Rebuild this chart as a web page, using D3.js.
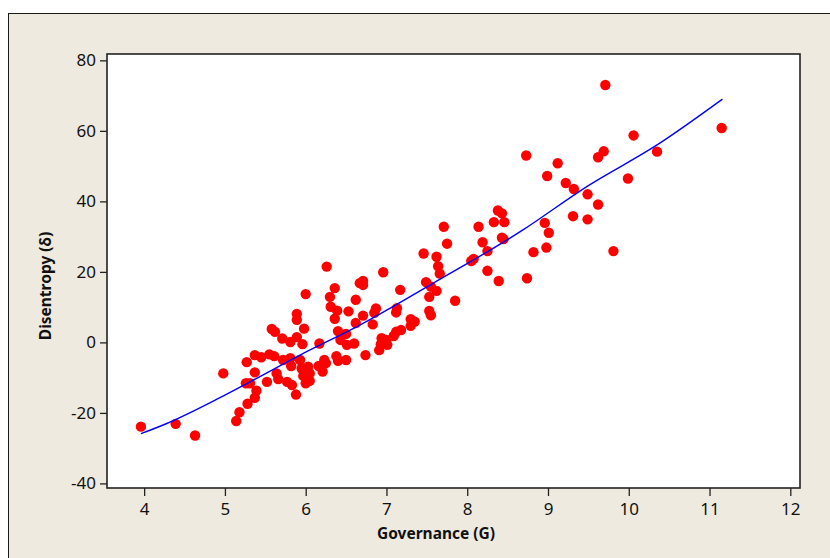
<!DOCTYPE html>
<html>
<head>
<meta charset="utf-8">
<script src="https://cdn.jsdelivr.net/npm/d3@7"></script>
<style>
  html, body { margin: 0; padding: 0; background: #ffffff; }
  svg { display: block; }
</style>
</head>
<body>
<div id="chart"></div>
<script>
// ---- data ----
const governance = [
  3.96, 4.39, 4.63, 4.98, 5.14, 5.18, 5.28, 5.37, 5.39, 5.26, 5.31, 5.37, 5.27, 5.37, 5.45, 5.55, 5.61,
  5.52, 5.64, 5.66, 5.58, 5.62, 5.71, 5.81, 5.89, 5.96, 5.98, 5.89, 5.89, 6.00, 5.72, 5.81, 5.82, 5.77,
  5.83, 5.88, 5.93, 5.95, 5.97, 6.03, 6.05, 6.00, 6.05, 6.16, 6.21, 6.23, 6.25, 6.17, 6.26, 6.36, 6.30,
  6.31, 6.39, 6.36, 6.53, 6.62, 6.67, 6.62, 6.40, 6.50, 6.43, 6.51, 6.60, 6.38, 6.40, 6.50, 6.71, 6.87,
  6.85, 6.83, 6.74, 6.96, 6.71, 6.71, 7.17, 7.13, 7.12, 6.94, 7.00, 7.01, 6.93, 6.91, 7.18, 7.12, 7.09,
  7.30, 7.35, 7.30, 7.53, 7.55, 7.49, 7.55, 7.62, 7.53, 7.85, 7.46, 7.62, 7.64, 7.66, 8.05, 8.08, 8.25,
  8.39, 8.74, 8.82, 8.98, 9.01, 7.71, 7.75, 8.14, 8.19, 8.25, 8.43, 8.45, 8.38, 8.43, 8.33, 8.46, 8.96,
  9.31, 9.49, 9.62, 9.49, 9.22, 9.32, 8.99, 9.12, 8.73, 9.99, 9.69, 9.62, 10.06, 10.35, 9.71, 11.15, 9.81
];
const disentropy = [
  -23.9, -23.1, -26.4, -8.8, -22.3, -19.8, -17.4, -15.7, -13.7, -11.6, -11.6, -8.5, -5.6, -3.6, -4.2, -3.4, -3.9,
  -11.2, -8.8, -10.4, 3.8, 3.0, 1.1, 0.1, 1.5, -0.5, 3.9, 8.1, 6.4, 13.7, -5.0, -4.5, -6.7, -11.2,
  -12.1, -14.8, -5.0, -7.4, -9.5, -6.9, -8.8, -11.6, -10.9, -6.7, -8.3, -5.0, -5.9, -0.3, 21.5, 15.4, 12.9,
  10.1, 9.0, 6.7, 8.8, 12.1, 16.8, 5.5, 3.2, 2.4, 0.7, -0.7, -0.3, -3.9, -5.2, -5.0, 7.6, 9.6,
  8.4, 5.1, -3.6, 19.9, 17.4, 16.3, 14.9, 9.7, 8.5, 1.2, 0.7, -0.7, -0.5, -2.2, 3.5, 3.0, 1.8,
  6.6, 5.9, 4.7, 8.9, 7.7, 17.1, 15.8, 14.6, 12.9, 11.8, 25.2, 24.3, 21.6, 19.5, 23.1, 23.7, 20.3,
  17.4, 18.2, 25.6, 26.9, 31.1, 32.8, 28.0, 32.8, 28.4, 25.9, 29.7, 29.3, 37.4, 36.6, 34.1, 34.1, 33.9,
  35.8, 34.9, 39.1, 42.0, 45.2, 43.5, 47.2, 50.8, 53.0, 46.5, 54.2, 52.5, 58.7, 54.1, 73.0, 60.8, 25.9
];
// fitted curve
const fitG = [3.96, 4.28, 4.92, 5.31, 5.93, 6.67, 7.58, 8.69, 9.48, 10.35, 11.16];
const fitD = [-25.9, -23.0, -15.9, -11.2, -3.6, 4.9, 16.8, 31.9, 44.2, 56.0, 69.0];

const xTicks = [4, 5, 6, 7, 8, 9, 10, 11, 12];
const yTicks = [-40, -20, 0, 20, 40, 60, 80];
const xTitle = "Governance (G)";
const yTitle = "Disentropy (δ)";

// ---- drawing ----
const W = 830, H = 558;
const plot = { left: 107, top: 54, right: 800, bottom: 488 };
const font = "'Noto Sans', 'DejaVu Sans', sans-serif";

const svg = d3.select("#chart").append("svg").attr("width", W).attr("height", H);

svg.append("rect").attr("x", 0).attr("y", 0).attr("width", W).attr("height", H).attr("fill", "#ffffff");
svg.append("rect").attr("x", 8.5).attr("y", 13.5).attr("width", W + 20).attr("height", H + 20)
  .attr("fill", "#eeeae0").attr("stroke", "#1a1a1a").attr("stroke-width", 1);

const x = d3.scaleLinear().domain([3.54, 12.12]).range([plot.left, plot.right]);
const y = d3.scaleLinear().domain([-41.3, 81.8]).range([plot.bottom, plot.top]);

svg.append("rect").attr("x", plot.left).attr("y", plot.top)
  .attr("width", plot.right - plot.left).attr("height", plot.bottom - plot.top)
  .attr("fill", "#ffffff");

// axes
const fmt = d => String(d);
const xAxis = svg.append("g").attr("transform", `translate(0,${plot.bottom})`)
  .call(d3.axisBottom(x).tickValues(xTicks).tickSize(8).tickPadding(7).tickFormat(fmt));
const yAxis = svg.append("g").attr("transform", `translate(${plot.left},0)`)
  .call(d3.axisLeft(y).tickValues(yTicks).tickSize(7).tickPadding(4).tickFormat(fmt));
[xAxis, yAxis].forEach(g => {
  g.select(".domain").remove();
  g.selectAll(".tick line").attr("stroke", "#222").attr("stroke-width", 1.3);
  g.selectAll(".tick text").attr("fill", "#111").style("font-family", font).style("font-size", "17px");
});

// points
svg.append("g").selectAll("circle")
  .data(governance.map((g, i) => [g, disentropy[i]]))
  .join("circle")
  .attr("cx", d => x(d[0])).attr("cy", d => y(d[1])).attr("r", 5.2)
  .attr("fill", "#ff0000");

// fit line
const line = d3.line().x(d => x(d[0])).y(d => y(d[1])).curve(d3.curveMonotoneX);
svg.append("path").datum(fitG.map((g, i) => [g, fitD[i]]))
  .attr("d", line).attr("fill", "none").attr("stroke", "#0000ff").attr("stroke-width", 1.4);

// frame
svg.append("rect").attr("x", plot.left).attr("y", plot.top)
  .attr("width", plot.right - plot.left).attr("height", plot.bottom - plot.top)
  .attr("fill", "none").attr("stroke", "#222").attr("stroke-width", 1.6);

// titles
svg.append("text").attr("x", 436).attr("y", 539).attr("text-anchor", "middle")
  .style("font-family", font).style("font-size", "15.5px").style("font-weight", "bold").attr("fill", "#111")
  .text(xTitle);
svg.append("text").attr("transform", `translate(51,${286}) rotate(-90)`).attr("text-anchor", "middle")
  .style("font-family", font).style("font-size", "15.5px").style("font-weight", "bold").attr("fill", "#111")
  .text(yTitle);
</script>
</body>
</html>
